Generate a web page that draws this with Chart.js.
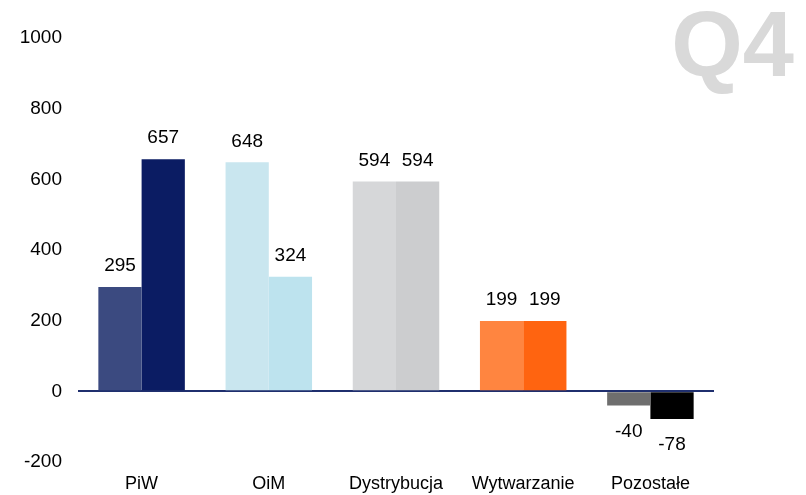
<!DOCTYPE html>
<html>
<head>
<meta charset="utf-8">
<script src="https://cdn.jsdelivr.net/npm/chart.js@4/dist/chart.umd.min.js"></script>
<style>
  body { margin: 0; background: #fff; }
  #wrap { position: relative; width: 806px; height: 495px; }
  #q4 { position: absolute; right: 12px; top: -2px; font: bold 92px "Liberation Sans", Arial, sans-serif; line-height: 1; color: #D9D9D9; }
</style>
</head>
<body>
<div id="wrap">
  <canvas id="chart" width="806" height="495"></canvas>
  <div id="q4">Q4</div>
</div>
<script>
// dane
var categories = ['PiW', 'OiM', 'Dystrybucja', 'Wytwarzanie', 'Pozostałe'];
var seriesA = [295, 648, 594, 199, -40];
var seriesB = [657, 324, 594, 199, -78];
var colorsA = ['#3B4A80', '#C9E6EF', '#D6D7D9', '#FF8540', '#6E6E6E'];
var colorsB = ['#0B1C63', '#BDE3EE', '#CCCDCF', '#FF6410', '#000000'];
var yTicks = [-200, 0, 200, 400, 600, 800, 1000];

var FONT = '"Liberation Sans", Arial, sans-serif';

// etykiety z wartosciami nad / pod slupkami
var valueLabels = {
    id: 'valueLabels',
    afterDatasetsDraw: function (chart) {
        var ctx = chart.ctx;
        ctx.save();
        ctx.font = '19px ' + FONT;
        ctx.fillStyle = '#000';
        ctx.textAlign = 'center';
        ctx.textBaseline = 'middle';
        chart.data.datasets.forEach(function (ds, i) {
            chart.getDatasetMeta(i).data.forEach(function (bar, j) {
                var v = ds.data[j];
                var y = v >= 0 ? bar.y - 21 : bar.y + 26;
                ctx.fillText(v, bar.x, y);
            });
        });
        ctx.restore();
    }
};

new Chart(document.getElementById('chart'), {
    type: 'bar',
    data: {
        labels: categories,
        datasets: [
            { data: seriesA, backgroundColor: colorsA, categoryPercentage: 0.68, barPercentage: 1 },
            { data: seriesB, backgroundColor: colorsB, categoryPercentage: 0.68, barPercentage: 1 }
        ]
    },
    options: {
        responsive: false,
        animation: false,
        layout: { padding: { top: 38, right: 92, left: 0, bottom: 0 } },
        plugins: { legend: { display: false }, tooltip: { enabled: false } },
        scales: {
            x: {
                grid: { display: false, drawTicks: false },
                border: { display: false },
                ticks: { color: '#000', font: { family: FONT, size: 18 }, padding: 11 },
                afterFit: function (s) { s.height = 33; }
            },
            y: {
                min: -200,
                max: 1000,
                afterBuildTicks: function (s) { s.ticks = yTicks.map(function (v) { return { value: v }; }); },
                border: { display: false },
                grid: {
                    drawTicks: false,
                    lineWidth: 2,
                    color: function (c) { return c.tick && c.tick.value === 0 ? '#1F2F6E' : 'rgba(0,0,0,0)'; }
                },
                ticks: {
                    color: '#000',
                    font: { family: FONT, size: 19 },
                    padding: 16,
                    callback: function (v) { return String(v); }
                },
                afterFit: function (s) { s.width = 78; }
            }
        }
    },
    plugins: [valueLabels]
});
</script>
</body>
</html>
